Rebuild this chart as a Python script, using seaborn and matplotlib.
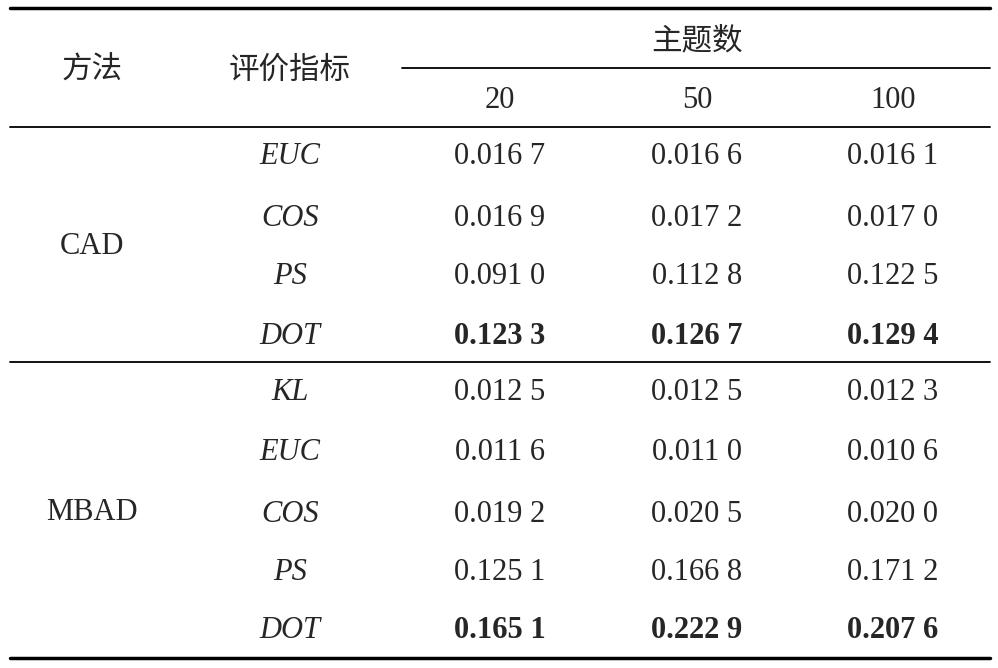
import matplotlib
matplotlib.use("Agg")
import matplotlib.pyplot as plt
import seaborn as sns

sns.set_theme(style="white")
plt.rcParams['font.family'] = ['Liberation Serif', 'Noto Sans CJK SC']

methods = ["CAD", "MBAD"]
metrics_cad = ["EUC", "COS", "PS", "DOT"]
metrics_mbad = ["KL", "EUC", "COS", "PS", "DOT"]
topics = ["20", "50", "100"]
vals_cad = [["0.016 7", "0.016 6", "0.016 1"],
            ["0.016 9", "0.017 2", "0.017 0"],
            ["0.091 0", "0.112 8", "0.122 5"],
            ["0.123 3", "0.126 7", "0.129 4"]]
vals_mbad = [["0.012 5", "0.012 5", "0.012 3"],
             ["0.011 6", "0.011 0", "0.010 6"],
             ["0.019 2", "0.020 5", "0.020 0"],
             ["0.125 1", "0.166 8", "0.171 2"],
             ["0.165 1", "0.222 9", "0.207 6"]]

fig = plt.figure(figsize=(9.98, 6.68), dpi=100)
ax = fig.add_axes([0, 0, 1, 1])
ax.set_xlim(0, 998); ax.set_ylim(668, 0); ax.axis("off")

cjk = ['Noto Sans CJK SC', 'DejaVu Sans']
fs = 22
ax.text(92, 70, "方法", ha="center", va="center", fontsize=fs, family=cjk)
ax.text(290, 70, "评价指标", ha="center", va="center", fontsize=fs, family=cjk)
ax.text(697, 41, "主题数", ha="center", va="center", fontsize=fs, family=cjk)
colx = [500, 697, 893]
for x, t in zip(colx, topics):
    ax.text(x, 100, t, ha="center", va="center", fontsize=fs)

ax.plot([10, 990], [8, 8], color="black", lw=2.5)
ax.plot([402, 990], [68, 68], color="black", lw=1.3)
ax.plot([10, 990], [127, 127], color="black", lw=1.3)
ax.plot([10, 990], [362, 362], color="black", lw=1.3)
ax.plot([10, 990], [658, 658], color="black", lw=2.5)

def block(name, ymid, metrics, vals, ys):
    ax.text(92, ymid, name, ha="center", va="center", fontsize=fs)
    for i, (m, row, y) in enumerate(zip(metrics, vals, ys)):
        ax.text(290, y, m, ha="center", va="center", fontsize=fs, style="italic")
        bold = i == len(metrics) - 1
        for x, v in zip(colx, row):
            ax.text(x, y, v, ha="center", va="center", fontsize=fs,
                    weight="bold" if bold else "normal")

block(methods[0], 246, metrics_cad, vals_cad, [157, 218, 276, 336])
block(methods[1], 513, metrics_mbad, vals_mbad, [392, 453, 515, 573, 631])

fig.savefig("out.png", dpi=100)
